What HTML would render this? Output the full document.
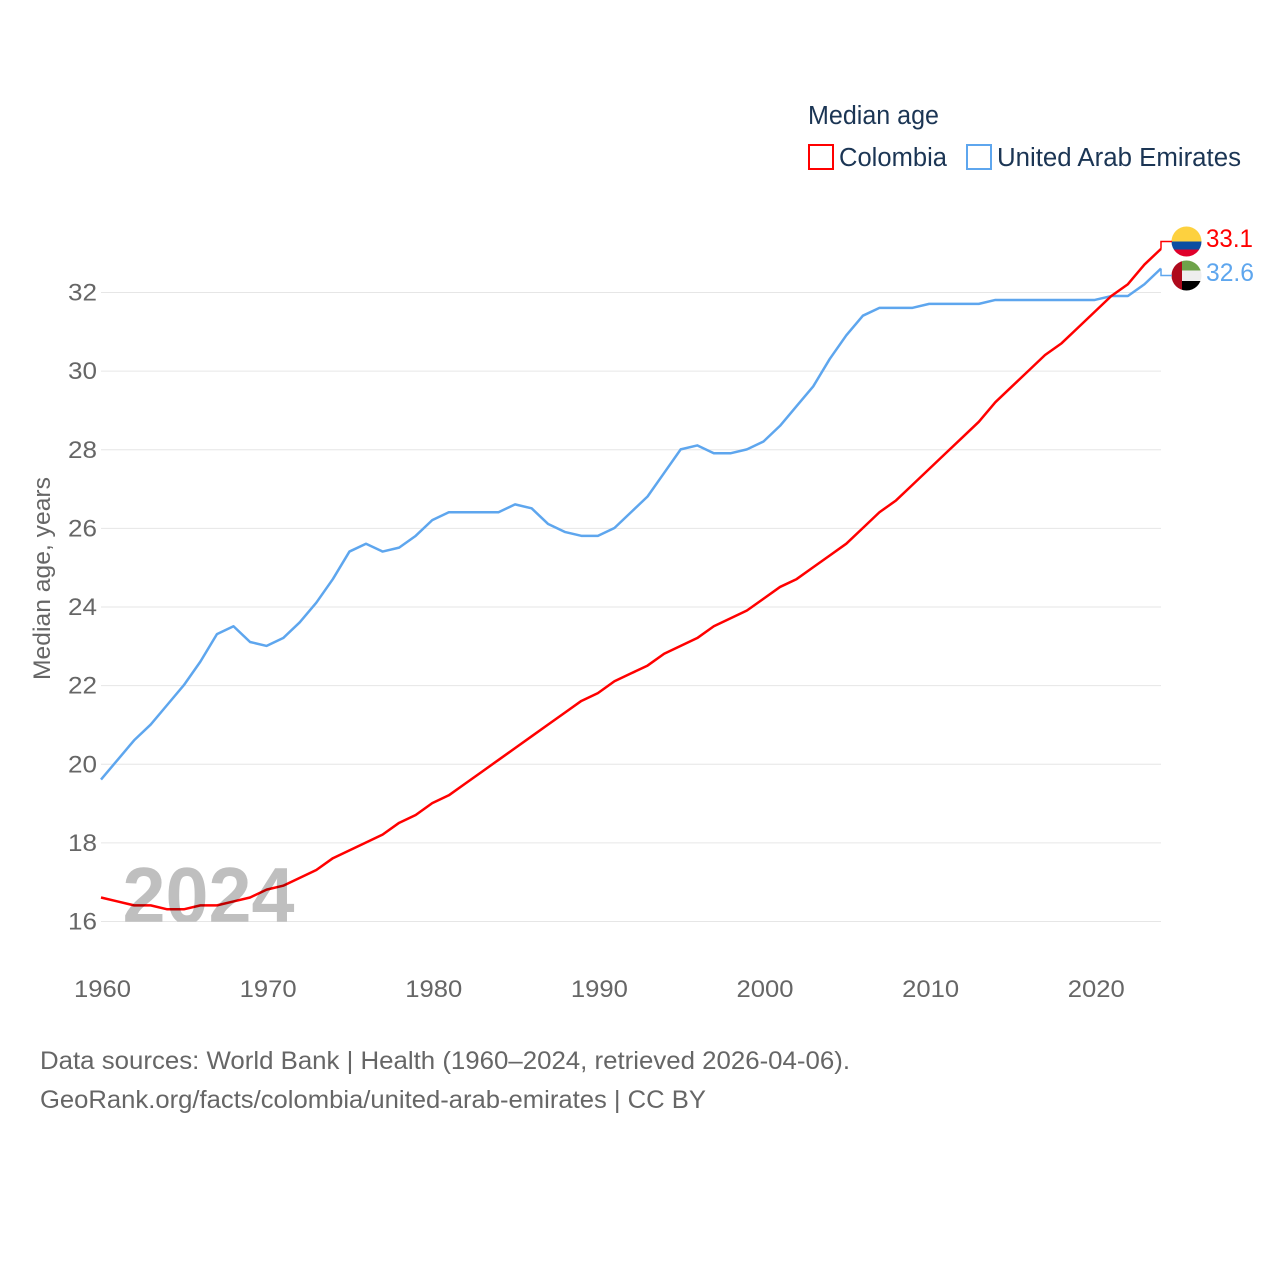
<!DOCTYPE html>
<html lang="en">
<head>
<meta charset="utf-8">
<title>Median age: Colombia and United Arab Emirates</title>
<style>
html,body{margin:0;padding:0;background:#fff;}
svg{display:block;font-family:"Liberation Sans",sans-serif;}
</style>
</head>
<body>
<svg id="chart" xmlns="http://www.w3.org/2000/svg" width="1280" height="1280" viewBox="0 0 1280 1280">
  <defs>
    <clipPath id="clip-co"><circle cx="1186.5" cy="241.5" r="15"/></clipPath>
    <clipPath id="clip-ae"><circle cx="1186.5" cy="275.5" r="15"/></clipPath>
    <clipPath id="clip-year"><rect x="100" y="850" width="220" height="71.5"/></clipPath>
  </defs>
  <rect x="0" y="0" width="1280" height="1280" fill="#fff"/>

  <g id="grid"></g>
  <g id="y-ticks"></g>
  <g id="x-ticks"></g>

  <text transform="translate(50,680) rotate(-90)" font-size="24.5" fill="#666" textLength="203" lengthAdjust="spacingAndGlyphs">Median age, years</text>

  <g id="series"></g>

  <text x="122.5" y="923" font-size="80" font-weight="700" fill="#bfbfbf" clip-path="url(#clip-year)" textLength="172" lengthAdjust="spacingAndGlyphs" style="mix-blend-mode:multiply">2024</text>

  <g>
    <text x="808" y="124" font-size="25.5" fill="#1b3554" textLength="131" lengthAdjust="spacingAndGlyphs">Median age</text>
    <g>
      <rect x="809" y="145" width="24" height="24" fill="#fff" stroke="#ff0000" stroke-width="2"/>
      <text x="839" y="166" font-size="25.5" fill="#1b3554" textLength="108" lengthAdjust="spacingAndGlyphs">Colombia</text>
    </g>
    <g>
      <rect x="967" y="145" width="24" height="24" fill="#fff" stroke="#5ea6ee" stroke-width="2"/>
      <text x="997" y="166" font-size="25.5" fill="#1b3554" textLength="244" lengthAdjust="spacingAndGlyphs">United Arab Emirates</text>
    </g>
  </g>

  <g clip-path="url(#clip-co)">
    <rect x="1171" y="226" width="31" height="15.5" fill="#fdd13f"/>
    <rect x="1171" y="241.5" width="31" height="8" fill="#0b4ea2"/>
    <rect x="1171" y="249.5" width="31" height="8" fill="#e0002b"/>
  </g>
  <g clip-path="url(#clip-ae)">
    <rect x="1182" y="260" width="20" height="10.5" fill="#6ea34a"/>
    <rect x="1182" y="270.5" width="20" height="10.5" fill="#eeeeee"/>
    <rect x="1182" y="281" width="20" height="10.5" fill="#000"/>
    <rect x="1171" y="260" width="11" height="31" fill="#ae0a1c"/>
  </g>

  <g id="end-labels"></g>

  <g>
    <text x="40" y="1069" font-size="25" fill="#666" textLength="810" lengthAdjust="spacingAndGlyphs">Data sources: World Bank | Health (1960–2024, retrieved 2026-04-06).</text>
    <text x="40" y="1108" font-size="25" fill="#666" textLength="666" lengthAdjust="spacingAndGlyphs">GeoRank.org/facts/colombia/united-arab-emirates | CC BY</text>
  </g>
</svg>

<script>
const years = [1960,1961,1962,1963,1964,1965,1966,1967,1968,1969,1970,1971,1972,1973,1974,1975,1976,1977,1978,1979,1980,1981,1982,1983,1984,1985,1986,1987,1988,1989,1990,1991,1992,1993,1994,1995,1996,1997,1998,1999,2000,2001,2002,2003,2004,2005,2006,2007,2008,2009,2010,2011,2012,2013,2014,2015,2016,2017,2018,2019,2020,2021,2022,2023,2024];
const colombia = [16.6,16.5,16.4,16.4,16.3,16.3,16.4,16.4,16.5,16.6,16.8,16.9,17.1,17.3,17.6,17.8,18.0,18.2,18.5,18.7,19.0,19.2,19.5,19.8,20.1,20.4,20.7,21.0,21.3,21.6,21.8,22.1,22.3,22.5,22.8,23.0,23.2,23.5,23.7,23.9,24.2,24.5,24.7,25.0,25.3,25.6,26.0,26.4,26.7,27.1,27.5,27.9,28.3,28.7,29.2,29.6,30.0,30.4,30.7,31.1,31.5,31.9,32.2,32.7,33.1];
const uae = [19.6,20.1,20.6,21.0,21.5,22.0,22.6,23.3,23.5,23.1,23.0,23.2,23.6,24.1,24.7,25.4,25.6,25.4,25.5,25.8,26.2,26.4,26.4,26.4,26.4,26.6,26.5,26.1,25.9,25.8,25.8,26.0,26.4,26.8,27.4,28.0,28.1,27.9,27.9,28.0,28.2,28.6,29.1,29.6,30.3,30.9,31.4,31.6,31.6,31.6,31.7,31.7,31.7,31.7,31.8,31.8,31.8,31.8,31.8,31.8,31.8,31.9,31.9,32.2,32.6];
const yTickValues = [16,18,20,22,24,26,28,30,32];
const xTickValues = [1960,1970,1980,1990,2000,2010,2020];

const SVG_NS = 'http://www.w3.org/2000/svg';
const plot = { left: 101, right: 1161, y16: 921.5, y32: 292.5 };
function xScale(year) {
  return plot.left + (year - 1960) * (plot.right - plot.left) / (2024 - 1960);
}
function yScale(value) {
  return plot.y16 + (value - 16) * (plot.y32 - plot.y16) / (32 - 16);
}
function make(tag, attrs, parent) {
  const el = document.createElementNS(SVG_NS, tag);
  for (const k in attrs) el.setAttribute(k, attrs[k]);
  parent.appendChild(el);
  return el;
}

const grid = document.getElementById('grid');
const yTicksGroup = document.getElementById('y-ticks');
const xTicksGroup = document.getElementById('x-ticks');
const seriesGroup = document.getElementById('series');
const endLabels = document.getElementById('end-labels');

yTickValues.forEach(function (v) {
  const line = make('line', { x1: plot.left, x2: plot.right, y1: yScale(v), y2: yScale(v), stroke: '#e6e6e6', 'stroke-width': 1 }, grid);
  
  
  const label = make('text', { x: 97, y: yScale(v) + 8, 'text-anchor': 'end', 'font-size': 24.5, fill: '#666', textLength: 29, lengthAdjust: 'spacingAndGlyphs' }, yTicksGroup);
  label.textContent = String(v);
  
  
});

xTickValues.forEach(function (yr) {
  const label = make('text', { x: xScale(yr) + 1.5, y: 997, 'text-anchor': 'middle', 'font-size': 24.5, fill: '#666', textLength: 57, lengthAdjust: 'spacingAndGlyphs' }, xTicksGroup);
  label.textContent = String(yr);
  
  
});

function linePoints(values) {
  return values.map(function (v, i) {
    return xScale(years[i]).toFixed(2) + ',' + (yScale(v) - 0.4).toFixed(2);
  }).join(' ');
}

const uaeLine = make('polyline', { points: linePoints(uae), fill: 'none', stroke: '#5ea6ee', 'stroke-width': 2.5, 'stroke-linejoin': 'round' }, seriesGroup);



const colombiaLine = make('polyline', { points: linePoints(colombia), fill: 'none', stroke: '#ff0000', 'stroke-width': 2.5, 'stroke-linejoin': 'round' }, seriesGroup);



const colombiaLast = colombia[colombia.length - 1];
const uaeLast = uae[uae.length - 1];
const colombiaEndY = yScale(colombiaLast) - 0.4;
const uaeEndY = yScale(uaeLast) - 0.4;

const colombiaConnector = make('path', { d: 'M' + plot.right + ' ' + colombiaEndY + 'V241.5H1172', fill: 'none', stroke: '#ff0000', 'stroke-width': 1.5 }, endLabels);



const uaeConnector = make('path', { d: 'M' + plot.right + ' ' + uaeEndY + 'V275.5H1172', fill: 'none', stroke: '#5ea6ee', 'stroke-width': 1.5 }, endLabels);



const colombiaValue = make('text', { x: 1206, y: 247, 'font-size': 25, fill: '#ff0000', textLength: 47, lengthAdjust: 'spacingAndGlyphs' }, endLabels);
colombiaValue.textContent = colombiaLast.toFixed(1);



const uaeValue = make('text', { x: 1206, y: 281, 'font-size': 25, fill: '#5ea6ee', textLength: 48, lengthAdjust: 'spacingAndGlyphs' }, endLabels);
uaeValue.textContent = uaeLast.toFixed(1);


</script>
</body>
</html>
